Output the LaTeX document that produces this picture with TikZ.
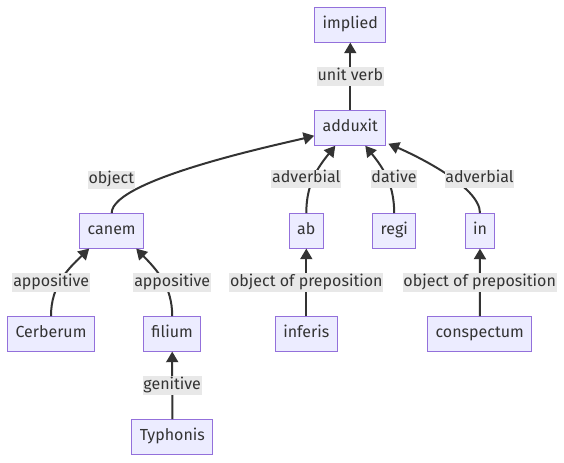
\documentclass[tikz,border=0pt]{standalone}
\usepackage{fontspec}
\setmainfont{Fira Sans}
\usepackage{xcolor}
\usepackage{tikz}
\usetikzlibrary{positioning, arrows.meta, calc}
\definecolor{boxfill}{HTML}{ECECFF}
\definecolor{boxline}{HTML}{9370DB}
\definecolor{ink}{HTML}{333333}
\definecolor{lblfill}{HTML}{E8E8E8}

\begin{document}
\begin{tikzpicture}[
    x=0.75pt, y=-0.75pt,
    word/.style={rectangle, draw=boxline, fill=boxfill, line width=0.75pt, text=ink, inner xsep=6pt, inner ysep=0pt, minimum height=25.9pt, text height=8.8pt, text depth=2.9pt, font=\fontsize{12}{14}\selectfont},
    rel/.style={rectangle, fill=lblfill, text=ink, inner xsep=0.6pt, inner ysep=0pt, minimum height=14pt, text height=8.8pt, text depth=2.9pt, font=\fontsize{12}{14}\selectfont},
    arrow/.style={-{Triangle[length=8pt, width=9pt]}, line width=1.5pt, draw=ink}
]
    \useasboundingbox (0,0) rectangle (564,462);

    % Words
    \node[word] (implied) at (350.3,24.8) {implied};
    \node[word] (adduxit) at (350.3,128) {adduxit};
    \node[word] (canem) at (111.7,230.8) {canem};
    \node[word] (ab) at (306.3,230.8) {ab};
    \node[word] (regi) at (394.2,230.8) {regi};
    \node[word] (in) at (480,230.8) {in};
    \node[word] (cerberum) at (51,333.8) {Cerberum};
    \node[word] (filium) at (172.2,333.8) {filium};
    \node[word] (inferis) at (306.3,333.8) {inferis};
    \node[word] (conspectum) at (479.7,333.8) {conspectum};
    \node[word] (typhonis) at (172.3,437) {Typhonis};

    % Straight edges
    \draw[arrow] (adduxit) -- (implied);
    \draw[arrow] (inferis) -- (ab);
    \draw[arrow] (conspectum) -- (in);
    \draw[arrow] (typhonis) -- (filium);

    % Curved edges into adduxit
    \draw[arrow] (canem.north) to[out=90, in=194, looseness=0.4] ($(adduxit.south west)+(0,-10)$);
    \draw[arrow] (ab.north) to[out=90, in=231] ($(adduxit.south)+(-15,0)$);
    \draw[arrow] (regi.north) to[out=90, in=-51] ($(adduxit.south)+(15,0)$);
    \draw[arrow] (in.north) to[out=90, in=-23, looseness=0.6] ($(adduxit.south east)+(2,-2)$);

    % Curved edges into canem
    \draw[arrow] (cerberum.north) to[out=90, in=-136] ($(canem.south west)+(10,0)$);
    \draw[arrow] (filium.north) to[out=90, in=-46] ($(canem.south east)+(-8,0)$);

    % Edge labels
    \node[rel] (l-unit) at (350.3,76.3) {unit verb};
    \node[rel] (l-object) at (111.3,180) {object};
    \node[rel] (l-adv1) at (306.3,179) {adverbial};
    \node[rel] (l-dative) at (394,179) {dative};
    \node[rel] (l-adv2) at (479.5,179) {adverbial};
    \node[rel] (l-app1) at (51.2,282.5) {appositive};
    \node[rel] (l-app2) at (172.2,282.5) {appositive};
    \node[rel] (l-obj1) at (306.3,282.5) {object of preposition};
    \node[rel] (l-obj2) at (479.7,282.5) {object of preposition};
    \node[rel] (l-gen) at (172.2,385.5) {genitive};

\end{tikzpicture}
\end{document}
